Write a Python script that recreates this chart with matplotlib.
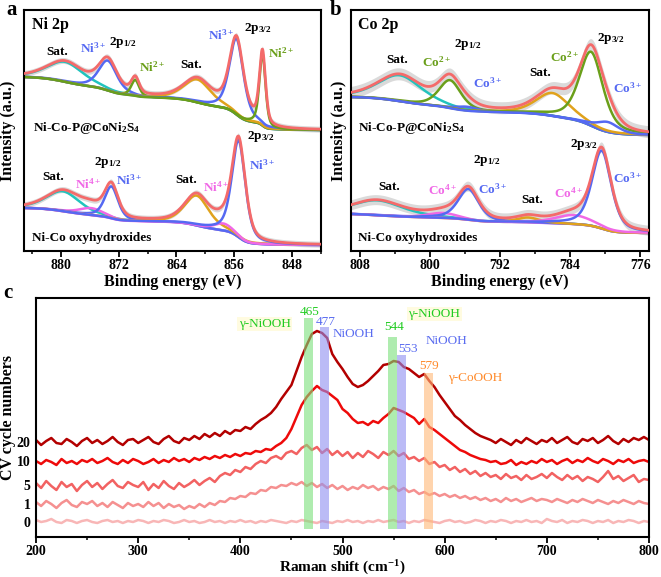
import numpy as np
import matplotlib
matplotlib.use("Agg")
import matplotlib.pyplot as plt
from matplotlib.ticker import MultipleLocator

# ---------------- data ----------------
# XPS fits: peak centre (eV), height (a.u.), fwhm (eV); background at high/low BE end
ni_lim = (885.1, 844.0)
ni_top_center = [879.4, 873.5, 869.7, 861.1, 855.7, 852.1]
ni_top_height = [20, 30, 16, 23, 76, 72]
ni_top_fwhm = [6.0, 3.0, 1.3, 4.5, 2.3, 1.0]
ni_top_bg = (174, 121)
ni_top_noise = 3

ni_bot_center = [879.7, 875.8, 873.0, 861.2, 857.5, 855.4]
ni_bot_height = [20, 7, 32, 30, 7, 97]
ni_bot_fwhm = [5.5, 4.0, 2.2, 4.0, 3.0, 2.2]
ni_bot_bg = (43, 6)
ni_bot_noise = 3

co_lim = (809.0, 775.0)
co_top_center = [803.4, 797.7, 795.8, 786.0, 781.6, 779.7]
co_top_height = [26, 28, 4, 23, 74, 10]
co_top_fwhm = [6.0, 3.0, 3.0, 4.5, 3.2, 3.0]
co_top_bg = (154, 116)
co_top_noise = 6

co_bot_center = [806.0, 798.5, 795.6, 788.8, 783.6, 780.4]
co_bot_height = [15, 5, 31, 5, 9, 78]
co_bot_fwhm = [7.0, 4.0, 2.8, 3.0, 5.0, 2.6]
co_bot_bg = (37, 18)
co_bot_noise = 5

# Raman spectra, 200-800 cm-1 every 5 cm-1, offset stacked
raman_shift = np.arange(200, 805, 5)
cv20 = [97, 92, 96, 99, 94, 93, 98, 95, 91, 96,
        99, 94, 97, 93, 96, 100, 95, 92, 97, 98,
        94, 97, 100, 95, 93, 98, 101, 96, 94, 99,
        97, 101, 98, 103, 100, 104, 101, 106, 103, 107,
        106, 110, 108, 113, 117, 120, 124, 130, 138, 145,
        152, 166, 180, 192, 203, 206, 204, 199, 183, 175,
        168, 160, 153, 150, 152, 156, 161, 166, 172, 173,
        176, 175, 170, 168, 164, 160, 163, 156, 150, 142,
        135, 128, 121, 117, 112, 108, 104, 101, 99, 97,
        94, 98, 95, 92, 97, 94, 99, 96, 93, 97,
        95, 99, 94, 97, 100, 95, 93, 98, 96, 99,
        94, 97, 101, 96, 93, 98, 95, 99, 97, 100,
        97]
cv10 = [76, 73, 77, 75, 72, 78, 74, 76, 73, 77,
        75, 78, 74, 76, 79, 75, 73, 77, 74, 78,
        76, 73, 75, 78, 74, 77, 75, 79, 76, 78,
        75, 79, 77, 80, 78, 81, 79, 82, 80, 83,
        81, 84, 83, 86, 85, 88, 87, 91, 94, 99,
        108, 120, 132, 140, 146, 151, 147, 145, 141, 137,
        128, 124, 118, 114, 115, 112, 116, 114, 119, 123,
        129, 127, 125, 122, 119, 113, 118, 110, 107, 103,
        99, 95, 91, 87, 85, 82, 80, 78, 77, 75,
        76, 73, 74, 77, 72, 75, 73, 76, 74, 78,
        75, 77, 73, 76, 78, 74, 77, 75, 79, 76,
        74, 78, 76, 73, 77, 75, 78, 74, 76, 77,
        75]
cv5 = [54, 49, 56, 51, 47, 55, 50, 53, 46, 52,
       56, 50, 54, 48, 53, 57, 51, 49, 55, 52,
       50, 55, 47, 53, 49, 56, 51, 48, 54, 50,
       53, 57, 52, 56, 59, 55, 61, 64, 62, 67,
       65, 70, 68, 73, 76, 74, 79, 81, 78, 84,
       86, 83, 89, 92, 87, 90, 84, 88, 82, 86,
       81, 85, 79, 84, 80, 86, 83, 79, 85, 82,
       86, 81, 84, 78, 80, 76, 79, 73, 75, 70,
       72, 67, 70, 65, 68, 63, 66, 61, 64, 60,
       62, 58, 63, 59, 61, 57, 62, 58, 60, 63,
       59, 64, 60, 57, 62, 58, 61, 56, 60, 58,
       55, 60, 66, 58, 61, 56, 59, 62, 55, 58,
       57]
cv1 = [35, 31, 36, 33, 29, 34, 37, 32, 30, 35,
       33, 36, 31, 34, 30, 35, 32, 29, 34, 31,
       33, 30, 35, 31, 34, 29, 33, 30, 32, 28,
       31, 29, 33, 30, 34, 32, 36, 35, 39, 38,
       41, 40, 44, 43, 47, 46, 50, 49, 52, 51,
       54, 52, 55, 51, 54, 50, 53, 49, 52, 48,
       51, 47, 50, 48, 52, 49, 51, 47, 50, 48,
       51, 46, 49, 45, 47, 43, 45, 42, 44, 41,
       43, 40, 42, 39, 41, 38, 40, 37, 39, 36,
       38, 35, 39, 36, 38, 35, 37, 39, 36, 38,
       37, 35, 38, 36, 34, 37, 35, 38, 36, 34,
       37, 35, 33, 36, 34, 37, 35, 33, 36, 34,
       33]
cv0 = [17, 15, 16, 18, 15, 14, 17, 16, 14, 16,
       17, 15, 14, 16, 17, 15, 16, 14, 16, 15,
       17, 16, 14, 16, 15, 17, 16, 14, 15, 17,
       15, 16, 14, 15, 17, 15, 16, 14, 16, 15,
       17, 15, 16, 14, 16, 15, 17, 16, 15, 14,
       16, 15, 17, 16, 15, 14, 16, 15, 14, 16,
       15, 17, 15, 16, 14, 16, 15, 17, 15, 16,
       17, 15, 16, 14, 16, 15, 17, 16, 15, 14,
       16, 17, 15, 16, 14, 15, 17, 16, 14, 16,
       15, 17, 16, 14, 16, 15, 17, 15, 16, 14,
       18, 16, 15, 17, 14, 16, 15, 17, 16, 14,
       16, 15, 17, 14, 16, 15, 17, 16, 14, 16,
       15]
cv_labels = ["20", "10", "5", "1", "0"]
cv_levels = [95, 76, 52, 33, 15]

band_labels = ["465", "477", "544", "553", "579"]
band_centers = [467, 482, 549, 558, 584]
band_tops = [219, 210, 200, 182, 164]

# ---------------- style ----------------
plt.rcParams["font.family"] = ["Liberation Serif", "DejaVu Serif"]
plt.rcParams["font.weight"] = "bold"
plt.rcParams["axes.labelweight"] = "bold"
plt.rcParams["mathtext.fontset"] = "custom"
plt.rcParams["mathtext.rm"] = "Liberation Serif:bold"
plt.rcParams["mathtext.it"] = "Liberation Serif:italic:bold"
plt.rcParams["mathtext.bf"] = "Liberation Serif:bold"

RED = "#f46a6a"
CYAN = "#22c3bd"
GREEN = "#6a9f1a"
BLUE = "#5569f2"
ORANGE = "#e0a21c"
PINK = "#f068e6"
GRAY = "#dadada"


def pv(e, c, h, w, eta=0.5):
    d = (e - c) / w
    return h * (eta / (1 + 4 * d ** 2) + (1 - eta) * np.exp(-4 * np.log(2) * d ** 2))


def draw_spectrum(ax, lim, centers, heights, fwhms, bg_ends, noise, colors):
    e = np.linspace(lim[0], lim[1], 900)
    peaks = [pv(e, c, h, w) for c, h, w in zip(centers, heights, fwhms)]
    total = np.sum(peaks, axis=0)
    # Shirley type background
    cum = np.cumsum(total[::-1])[::-1]
    bg = bg_ends[1] + (bg_ends[0] - bg_ends[1]) * cum / cum[0]
    env = bg + total
    ax.fill_between(e, env - noise, env + noise, color=GRAY, lw=0, zorder=1)
    for p, col in zip(peaks, colors):
        ax.plot(e, bg + p, color=col, lw=1.8, zorder=2)
    ax.plot(e, env, color=RED, lw=2.0, zorder=3)


def style_xps(ax, lim, major, minor):
    ax.set_xlim(*lim)
    ax.set_ylim(0, 241)
    ax.set_yticks([])
    ax.xaxis.set_major_locator(MultipleLocator(major))
    ax.xaxis.set_minor_locator(MultipleLocator(minor))
    ax.tick_params(axis="x", which="major", direction="out", length=4, width=1.3,
                   labelsize=10, pad=2)
    ax.tick_params(axis="x", which="minor", direction="out", length=2.5, width=1.1)
    for s in ax.spines.values():
        s.set_linewidth(1.5)
    ax.set_xlabel("Binding energy (eV)", fontsize=11.5, labelpad=1)
    ax.set_ylabel("Intensity (a.u.)", fontsize=11.5)


def lab(ax, x, y, s, col="black", size=9.5, ha="center"):
    ax.text(x, y, s, color=col, fontsize=size, ha=ha, va="center", fontweight="bold")


fig = plt.figure(figsize=(6.61, 5.77), dpi=100)
axa = fig.add_axes([24 / 661, 326 / 577, 297 / 661, 241 / 577])
axb = fig.add_axes([351 / 661, 326 / 577, 298 / 661, 241 / 577])
axc = fig.add_axes([36 / 661, 40 / 577, 613 / 661, 239 / 577])

# ---- panel a ----
draw_spectrum(axa, ni_lim, ni_top_center, ni_top_height, ni_top_fwhm, ni_top_bg,
              ni_top_noise, [CYAN, BLUE, GREEN, ORANGE, BLUE, GREEN])
draw_spectrum(axa, ni_lim, ni_bot_center, ni_bot_height, ni_bot_fwhm, ni_bot_bg,
              ni_bot_noise, [CYAN, PINK, BLUE, ORANGE, PINK, BLUE])
style_xps(axa, ni_lim, 8, 4)
axa.yaxis.set_label_coords(-0.026, 0.5)

lab(axa, 884.0, 226, "Ni 2p", size=11.5, ha="left")
lab(axa, 880.5, 199, "Sat.")
lab(axa, 875.6, 203, "Ni$^{3+}$", BLUE)
lab(axa, 871.4, 208, "2p$_{1/2}$")
lab(axa, 867.4, 184, "Ni$^{2+}$", GREEN)
lab(axa, 861.9, 186, "Sat.")
lab(axa, 857.8, 216, "Ni$^{3+}$", BLUE)
lab(axa, 852.8, 223, "2p$_{3/2}$")
lab(axa, 849.5, 198, "Ni$^{2+}$", GREEN)
lab(axa, 883.9, 123, "Ni-Co-P@CoNi$_2$S$_4$", ha="left")
lab(axa, 852.3, 114, "2p$_{3/2}$")
lab(axa, 852.1, 86, "Ni$^{3+}$", BLUE)
lab(axa, 873.5, 89, "2p$_{1/2}$")
lab(axa, 881.1, 74, "Sat.")
lab(axa, 876.3, 67, "Ni$^{4+}$", PINK)
lab(axa, 870.5, 71, "Ni$^{3+}$", BLUE)
lab(axa, 862.6, 71, "Sat.")
lab(axa, 858.5, 64, "Ni$^{4+}$", PINK)
lab(axa, 884.0, 13, "Ni-Co oxyhydroxides", ha="left")

# ---- panel b ----
draw_spectrum(axb, co_lim, co_top_center, co_top_height, co_top_fwhm, co_top_bg,
              co_top_noise, [CYAN, GREEN, BLUE, ORANGE, GREEN, BLUE])
draw_spectrum(axb, co_lim, co_bot_center, co_bot_height, co_bot_fwhm, co_bot_bg,
              co_bot_noise, [CYAN, PINK, BLUE, ORANGE, PINK, BLUE])
style_xps(axb, co_lim, 8, 4)
axb.yaxis.set_label_coords(-0.012, 0.5)

lab(axb, 808.2, 226, "Co 2p", size=11.5, ha="left")
lab(axb, 803.7, 191, "Sat.")
lab(axb, 795.7, 207, "2p$_{1/2}$")
lab(axb, 799.2, 189, "Co$^{2+}$", GREEN)
lab(axb, 793.4, 168, "Co$^{3+}$", BLUE)
lab(axb, 787.4, 178, "Sat.")
lab(axb, 784.6, 194, "Co$^{2+}$", GREEN)
lab(axb, 779.4, 213, "2p$_{3/2}$")
lab(axb, 777.4, 163, "Co$^{3+}$", BLUE)
lab(axb, 808.2, 123, "Ni-Co-P@CoNi$_2$S$_4$", ha="left")
lab(axb, 782.5, 106, "2p$_{3/2}$")
lab(axb, 793.5, 91, "2p$_{1/2}$")
lab(axb, 804.6, 64, "Sat.")
lab(axb, 798.6, 61, "Co$^{4+}$", PINK)
lab(axb, 792.8, 62, "Co$^{3+}$", BLUE)
lab(axb, 788.3, 51, "Sat.")
lab(axb, 784.2, 58, "Co$^{4+}$", PINK)
lab(axb, 777.4, 73, "Co$^{3+}$", BLUE)
lab(axb, 808.2, 13, "Ni-Co oxyhydroxides", ha="left")

# ---- panel c ----
curve_cols = ["#b30000", "#ee0a0a", "#f26262", "#f59090", "#f8b6b6"]
for ys, col in zip([cv20, cv10, cv5, cv1, cv0], curve_cols):
    axc.plot(raman_shift, ys, color=col, lw=1.8, zorder=2)

band_cols = ["#7be07b", "#8f8ff0", "#7be07b", "#8f8ff0", "#ffb877"]
for c, top, col in zip(band_centers, band_tops, band_cols):
    axc.bar(c, top - 8, bottom=8, width=9, color=col, alpha=0.6, lw=0, zorder=3)

TGREEN = "#22cc22"
TBLUE = "#5a6cf0"
TORANGE = "#ff8a2a"
txt_cols = [TGREEN, TBLUE, TGREEN, TBLUE, TORANGE]
txt_pos = [(468, 225), (484, 215), (551, 210), (564, 188), (585, 171)]
for s, (x, y), col in zip(band_labels, txt_pos, txt_cols):
    axc.text(x, y, s, color=col, fontsize=9.5, ha="center", va="center", fontweight="normal")
yb = dict(facecolor="#fffbe0", edgecolor="none", pad=1.0)
axc.text(424, 213, "γ-NiOOH", color=TGREEN, fontsize=9.5, ha="center", va="center",
         fontweight="normal", bbox=yb)
axc.text(511, 203, "NiOOH", color=TBLUE, fontsize=9.5, ha="center", va="center",
         fontweight="normal")
axc.text(590, 223, "γ-NiOOH", color=TGREEN, fontsize=9.5, ha="center", va="center",
         fontweight="normal", bbox=yb)
axc.text(602, 196, "NiOOH", color=TBLUE, fontsize=9.5, ha="center", va="center",
         fontweight="normal")
axc.text(630, 159, "γ-CoOOH", color=TORANGE, fontsize=9.5, ha="center", va="center",
         fontweight="normal")

axc.set_xlim(200, 800)
axc.set_ylim(0, 239)
axc.set_yticks(cv_levels)
axc.set_yticklabels(cv_labels)
axc.xaxis.set_major_locator(MultipleLocator(100))
axc.xaxis.set_minor_locator(MultipleLocator(50))
axc.tick_params(axis="x", which="major", direction="out", length=4, width=1.3,
                labelsize=10, pad=2)
axc.tick_params(axis="x", which="minor", direction="out", length=2.5, width=1.1)
axc.tick_params(axis="y", length=0, labelsize=10, pad=4)
for s in axc.spines.values():
    s.set_linewidth(1.5)
axc.set_xlabel("Raman shift (cm$^{-1}$)", fontsize=11, labelpad=0)
axc.set_ylabel("CV cycle numbers", fontsize=11.5)
axc.yaxis.set_label_coords(-0.032, 0.5)

fig.text(12 / 661, 1 - 10 / 577, "a", fontsize=15, fontweight="bold", ha="center", va="center")
fig.text(336 / 661, 1 - 10 / 577, "b", fontsize=15, fontweight="bold", ha="center", va="center")
fig.text(8 / 661, 1 - 293 / 577, "c", fontsize=15, fontweight="bold", ha="center", va="center")

fig.savefig("out.png", dpi=100)
